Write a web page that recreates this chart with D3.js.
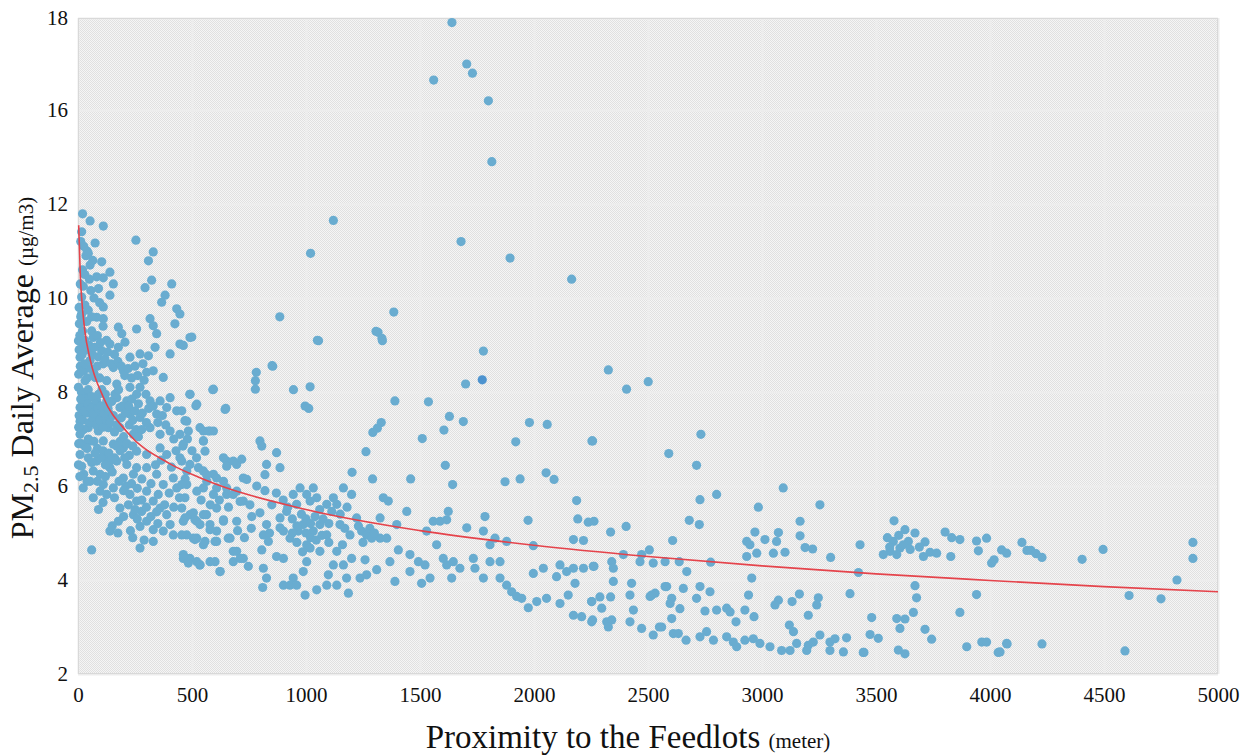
<!DOCTYPE html>
<html><head><meta charset="utf-8">
<script src="https://cdn.jsdelivr.net/npm/d3@7"></script>
<style>body{margin:0;background:#fff;} svg{display:block}</style>
</head><body><svg id="chart" width="1245" height="756"></svg>
<script>
// ---- tick labels ----
const xTicks = [0,500,1000,1500,2000,2500,3000,3500,4000,4500,5000];
const yTicks = [2,4,6,8,10,12,16,18];

// ---- scatter data: [distance (m), PM2.5 (µg/m3)] ----
const pmNear = [[20,11.79],[53,11.64],[16,11.41],[111,11.53],[75,11.17],[254,11.23],[330,10.98],[309,10.79],[45,10.95],[104,10.77],[53,10.7],[140,10.55],[111,10.43],[82,10.45],[323,10.38],[294,10.22],[411,10.3],[155,10.3],[23,10.25],[56,10.16],[140,10.06],[16,10.02],[382,10.06],[367,9.91],[111,9.81],[45,9.74],[433,9.77],[447,9.66],[316,9.56],[6,9.45],[82,9.59],[111,9.56],[177,9.38],[257,9.34],[330,9.41],[345,9.24],[425,9.45],[491,9.16],[447,9.02],[404,8.81],[192,9.24],[206,9.06],[177,8.95],[228,8.74],[272,8.81],[309,8.77],[338,8.95],[2,9.09],[23,8.95],[67,9.16],[104,8.88],[140,9.02],
[9,8.74],[53,8.67],[111,8.6],[155,8.52],[199,8.45],[301,8.42],[330,8.45],[374,8.31],[3,8.38],[31,8.24],[75,8.31],[126,8.24],[170,8.17],[228,8.1],[272,8.1],[316,7.81],[360,7.81],[404,7.88],[2,8.1],[38,7.95],[82,7.81],[126,7.81],[170,7.88],[214,7.81],[257,7.95],[594,8.06],[491,7.95],[645,7.63],[521,7.74],[9,7.67],[53,7.6],[97,7.53],[140,7.53],[184,7.67],[228,7.53],[272,7.46],[345,7.53],[389,7.67],[433,7.6],[477,7.38],[535,7.24],[579,7.17],[9,7.38],[45,7.24],[89,7.17],[133,7.24],[184,7.24],[243,7.1],[316,7.24],[360,7.1],[404,7.17],[447,7.1],[550,6.96],[9,7.1],[53,6.96],[111,6.96],[155,6.89],[199,6.81],[257,6.74],[301,6.67],[360,6.81],[389,6.67],[447,6.6],[491,6.46],[550,6.32],[594,6.25],[652,6.53],[696,6.46],[725,6.17],[638,6.1],
[9,6.67],[45,6.6],[16,6.42],[82,6.53],[126,6.6],[170,6.53],[214,6.46],[257,6.39],[140,6.39],[97,6.25],[67,6.32],[111,6.03],[155,5.96],[126,5.82],[199,6.17],[243,6.25],[301,6.39],[345,6.25],[374,6.03],[418,6.17],[433,5.96],[477,6.03],[521,5.89],[565,6.1],[608,5.96],[652,5.82],[696,5.89],[725,5.68],
[228,5.82],[257,5.68],[221,5.6],[279,5.46],[243,5.39],[301,5.25],[272,5.14],[330,5.07],[177,5.25],[140,5.04],[360,5.53],[389,5.39],[404,5.18],[374,5.04],[418,4.96],[462,5.25],[491,5.39],[477,4.96],[521,5.25],[550,5.39],[579,5.18],[608,5.04],[521,4.89],[550,4.75],[608,4.82],[638,5.25],[667,4.89],[696,4.61],[725,4.46],[681,4.39],[623,4.18],[579,4.39],[491,4.46],[462,4.54],[535,4.32],[60,4.64],[272,4.68],[330,4.82],
[67,5.75],[23,5.96],[53,6.1],[97,5.89],[301,5.89],[330,5.68],[184,5.53],[352,5.82]];

const pmCore = [[5,9.8],[12,9.6],[20,9.3],[30,9.1],[40,8.9],[10,8.55],[25,8.45],[40,8.3],[55,8.5],[70,8.4],[85,8.55],[95,8.3],[15,8.0],[30,7.85],[45,8.05],[60,7.9],[75,7.75],[90,7.95],[105,8.05],[120,7.95],[5,7.5],[20,7.4],[35,7.55],[50,7.35],[65,7.45],[80,7.3],[95,7.4],[110,7.25],[125,7.4],[140,7.35],[155,7.5],[170,7.3],[15,6.9],[30,6.85],[45,7.0],[70,6.95],[85,6.8],[110,6.75],[135,6.7],[160,6.6],[185,6.95],[200,7.05],[215,6.9],[160,7.15],[190,7.45],[225,7.3],[240,7.4],[255,7.2],[5,8.9],[60,9.3],[85,9.2],[110,9.4],[125,9.1],[20,10.6],[35,10.9],[10,10.3],[40,11.0]];

const pmCoreFill = [[8,9.2],[18,8.8],[28,8.6],[38,9.5],[48,9.0],[62,8.8],[72,8.95],[88,8.75],[98,9.05],[118,8.7],[130,8.85],[145,8.6],[160,8.8],[175,8.65],[190,8.55],[205,8.35],[220,8.5],[235,8.3],[250,8.55],[262,8.35],[285,8.6],[290,8.25],[18,7.7],[28,7.6],[42,7.75],[58,7.65],[68,7.55],[88,7.65],[102,7.7],[115,7.55],[132,7.65],[148,7.8],[162,7.95],[178,8.05],[195,7.7],[208,7.55],[222,7.7],[236,7.85],[250,7.6],[265,7.75],[282,7.55],[298,7.95],[310,7.65],[330,7.7],[350,7.35],[370,7.5],[385,7.3],[300,7.35],[280,7.2],[265,7.05],[240,6.85],[225,6.65],[205,6.6],[185,6.75],[170,6.85],[145,6.55],[120,6.45],[100,6.6],[75,6.7],[60,6.5],[40,6.8],[25,7.2],[12,7.85],[3,7.25],[3,6.9],[2,6.45],[25,6.25],[40,6.1],[8,6.2],[85,6.1],[120,6.2],[150,6.3],[180,6.1],[210,6.0],[235,6.05],[260,5.95],[280,6.15],[320,6.05],[340,6.45],[365,6.55],[410,6.4],[430,6.75],[420,7.0],[460,6.85],[480,7.0],[500,6.75],[520,6.6],[470,6.15],[400,5.85],[380,5.6],[345,5.45],[320,5.35],[300,5.55],[280,5.7],[250,5.5],[200,5.9],[160,5.75],[110,5.65],[90,5.5],[200,5.35],[150,5.15],[175,5.0],[230,5.05],[260,5.3],[240,4.9],[290,4.85],[350,5.2],[420,5.55],[445,5.75],
[12,11.2],[25,11.1],[30,10.5],[50,10.4],[65,10.8],[70,10.0],[90,10.2],[95,9.9],[30,9.85],[60,9.6],[15,9.65]];

const pmMid = [[462,8.99],[499,9.17],[491,7.95],[517,7.71],[591,8.05],[648,7.65],[782,8.42],[778,8.24],[778,8.06],[854,8.55],[945,8.05],[1018,8.11],[996,7.7],[1012,7.65],[1055,9.09],[1316,9.27],[1335,9.09],[1778,8.87],[1700,8.17],[1390,7.81],[1537,7.79],[1330,7.35],[1313,7.23],[1293,7.14],[1629,7.48],[1690,7.37],[1605,7.19],[1510,7.01],[1263,6.73],[1611,6.44],[1643,6.03],[1459,6.15],[1292,6.15],[1202,6.29],[1980,7.35],[2058,7.31],[1920,6.94],[2254,6.96],[1939,6.15],[1873,6.09],[2053,6.28],[2088,6.14],[2187,5.69],[2192,5.3],[2238,5.23],[1974,5.27],
[455,7.6],[469,7.39],[484,7.17],[462,6.89],[455,6.53],[477,6.32],[455,6.03],[469,5.75],[455,5.53],[469,5.32],[455,4.96],[477,4.46],[521,4.39],[506,4.89],[513,5.28],[550,7.17],[572,7.17],[550,6.96],[557,6.74],[594,7.17],[528,6.39],[564,6.24],[608,6.17],[638,6.6],[652,6.42],[681,6.53],[718,6.57],[550,5.96],[594,5.82],[652,5.96],[681,5.82],[740,6.14],[798,6.96],[806,6.85],[784,6.0],[827,6.46],[820,6.24],[871,6.71],[886,6.39],[506,5.43],[564,5.39],[608,5.53],[638,5.28],[535,5.18],[579,5.07],[513,4.86],[557,4.82],[601,4.82],[659,4.89],[696,5.25],[711,5.67],[754,5.6],[762,5.35],[798,5.43],[827,5.18],[813,4.96],[835,4.82],[806,4.64],[681,4.61],[711,4.46],[747,4.29],[623,4.18],[601,4.39],[462,4.46],[484,4.36],[535,4.32],[813,4.25],[827,4.04],[810,3.84],[871,4.5],[901,4.46],[886,5.32],[901,5.04],[930,4.89],[966,5.04],[1003,4.75],[988,5.18],[944,5.82],[974,5.96],[1003,5.82],[1032,5.96],[1047,5.75],[1018,5.68],[959,5.61],[915,5.46],[886,5.11],[1061,5.18],[1091,4.96],[1032,5.04],[1018,4.68],[1061,4.61],[1003,4.39],[988,4.18],[944,4.04],[901,3.89],[930,3.89],[959,3.89],[996,3.68],[1047,3.79],[1098,4.11],[1120,4.32],[1135,4.61],[1164,4.32],[1178,4.04],[1186,3.72],[1091,3.89],[1135,3.89],[1237,4.04],[1266,4.11],[1310,4.22],[1259,4.43],[1200,4.46],[1091,5.61],[1120,5.75],[1135,5.61],[1164,5.96],[1200,5.82],[1113,5.46],[1149,5.18],[1193,4.96],[1222,5.32],[1244,5.04],[1266,4.96],[1288,4.89],[1325,4.89],[1354,4.89],[1325,5.32],[1361,5.68],[1339,5.75],[1398,5.18],[1442,5.46],[1405,4.64],[1368,4.39],[1390,3.97],[1456,4.54],[1493,4.39],[1522,4.32],[1507,3.93],[1544,4.04],[1456,4.18],[1529,5.04],[1558,5.25],[1588,5.25],[1624,5.46],[1617,5.28],[1573,4.75],[1602,4.46],[1617,4.32],[1646,4.39],[1639,4.04],[1675,4.25],[1705,5.11],[1734,4.46],[1741,4.25],[1778,4.04],[1785,5.35],[1778,5.04],[1807,4.75],[1807,4.39],[1851,4.39],[1829,4.89],[1880,4.82],[1851,4.04],[1880,3.89],[1902,3.75],[1924,3.65],[1946,3.61],[1975,3.41],[2012,3.54],[2055,3.61],[1997,4.14],[2041,4.25],[2114,3.5],[2150,3.68],[2173,3.25],[2209,3.22],[2253,3.11],[2253,3.54],[2114,4.32],[2099,4.07],[2143,4.18],[2173,4.25],[2217,4.25],[2260,4.29],[2180,3.93],[2173,4.86],[2217,4.84],[1997,4.73]];

const pmMidFill = [[900,5.7],[920,5.55],[940,5.3],[960,5.15],[980,5.4],[1000,5.3],[1020,5.2],[1040,5.35],[1060,5.5],[1075,5.3],[1000,5.0],[1020,4.9],[1045,4.85],[940,5.0],[960,4.8],[985,4.6],[1070,4.95],[1100,5.2],[1100,4.8],[1150,5.4],[1170,5.1],[1180,5.55],[1230,5.15],[1250,4.8],[1280,5.1],[1300,5.0],[1160,4.75],[850,5.6],[870,5.85],[820,5.9],[840,5.0],[760,5.1],[730,4.9],[700,5.05],[660,5.55],[620,5.7],[580,5.6],[540,5.7]];

const pmFar = [[2326,8.47],[2406,8.06],[2501,8.22],[2257,6.96],[2732,7.1],[2591,6.69],[2713,6.44],[3093,5.96],[2728,5.71],[2801,5.82],[2984,5.55],[3254,5.6],[2263,5.25],[2336,5.02],[2404,5.14],[2681,5.27],[2725,5.18],[2608,4.84],[2506,4.64],[2472,4.54],[2392,4.54],[2341,4.39],[2348,4.25],[2263,4.29],[2465,4.39],[2523,4.36],[2575,4.39],[2637,4.39],[2670,4.18],[2775,4.38],[2933,4.82],[2947,4.75],[2969,5.02],[3013,4.86],[3072,5.01],[3064,4.82],[3050,4.57],[3101,4.59],[3167,5.25],[3167,4.94],[3189,4.69],[3222,4.66],[2933,4.5],[2977,4.57],[2955,4.04],[3301,4.48],[3430,4.75],[3423,4.16],[3579,5.26],[3627,5.07],[3671,5.0],[3576,4.82],[3605,4.68],[3642,4.82],[3561,4.61],[3532,4.54],[3591,4.54],[3715,4.81],[3737,4.59],[3766,4.57],[3708,4.5],[3803,5.02],[3832,4.9],[3868,4.86],[3941,4.83],[3985,4.89],[3949,4.62],[3828,4.5],[4018,4.43],[4007,4.36],[4051,4.64],[4073,4.57],[3671,3.88],[3678,3.62],[3664,3.31],[3627,3.17],[3591,3.18],[3605,2.97],[3715,2.95],[3744,2.74],[3868,3.31],[3941,3.69],[3898,2.58],[3964,2.68],[3985,2.68],[4036,2.46],[4073,2.65],[3627,2.43],[3598,2.51],[3481,3.2],[3474,2.84],[3510,2.76],[3447,2.46],[3386,3.71],[3247,3.62],[3240,3.47],[3203,3.25],[3164,3.7],[3132,3.54],[3072,3.57],[3057,3.47],[3120,3.04],[3138,2.9],[2941,3.68],[2925,3.36],[2965,3.22],[2886,3.11],[2845,3.4],[2860,3.32],[2801,3.36],[2750,3.34],[2772,3.75],[2728,3.86],[2713,3.61],[2655,3.82],[2640,3.39],[2604,3.61],[2597,3.5],[2582,3.86],[2531,3.72],[2509,3.65],[2436,3.36],[2421,3.11],[2472,2.97],[2523,2.83],[2560,3.0],[2604,3.18],[2611,2.86],[2633,2.86],[2667,2.72],[2728,2.79],[2757,2.9],[2787,2.72],[2845,2.79],[2874,2.68],[2889,2.58],[2925,2.72],[2962,2.75],[2991,2.65],[3035,2.58],[3086,2.5],[3123,2.5],[3152,2.65],[3203,2.61],[3196,2.5],[3254,2.83],[3225,2.68],[3298,2.68],[3298,2.5],[3357,2.47],[3320,2.75],[3371,2.77],[3444,2.46],[2336,3.64],[2289,3.64],[2297,3.4],[2253,3.54],[2257,3.15],[2319,3.11],[2341,3.15],[2326,3.0],[2348,3.97],[2428,3.93],[2421,3.68],[2516,3.68],[2550,3.0],[2575,3.86],[3550,4.9],[3600,4.95],[3620,4.75],[3650,4.65],[3560,4.7],[3690,4.7]];

const pmEdge = [[4140,4.8],[4162,4.63],[4180,4.63],[4202,4.56],[4228,4.48],[4228,2.64],[4075,2.64],[4044,2.47],[4404,4.44],[4496,4.65],[4610,3.67],[4592,2.49],[4750,3.6],[4820,4.0],[4890,4.8],[4890,4.46]];

const pmHigh = [[1640,17.9],[1705,17.0],[1730,16.8],[1560,16.65],[1800,16.2],[1815,13.8],[1120,11.65],[1680,11.2],[1895,10.85],[1020,10.95],[2165,10.4],[1050,9.1],[885,9.6],[1385,9.7],[1307,9.29],[1333,9.14],[851,8.56]];

const pmMarked = [[1773,8.26]];

// ---- trend line ----
const trendDist = [3,10,16,30,53,110,215,404,548,1000,1500,2000,2500,3000,3500,4000,4500,5000];
const trendPM   = [11.55,10.5,10.0,9.3,8.7,7.9,7.15,6.47,6.15,5.5,5.05,4.74,4.5,4.3,4.13,3.99,3.86,3.75];

// ---- layout ----
const plot = {left:78, right:1218, top:18, bottom:674};
const svg = d3.select("#chart");
const x = d3.scaleLinear().domain([0,5000]).range([plot.left, plot.right]);
// broken axis: labels 18,16,12,... at equal spacing
const y = d3.scaleLinear().domain([2,12,16,18]).range([674,204,110,18]);

const defs = svg.append("defs");
const pat = defs.append("pattern").attr("id","dots").attr("width",2).attr("height",2).attr("patternUnits","userSpaceOnUse");
pat.append("rect").attr("width",2).attr("height",2).attr("fill","#f5f5f5");
pat.append("rect").attr("width",1).attr("height",1).attr("fill","#e0e0e0");
pat.append("rect").attr("x",1).attr("y",1).attr("width",1).attr("height",1).attr("fill","#e0e0e0");

svg.append("rect").attr("x",plot.left).attr("y",plot.top)
  .attr("width",plot.right-plot.left).attr("height",plot.bottom-plot.top)
  .attr("fill","url(#dots)");

// grid
const gx = svg.append("g").attr("transform",`translate(0,${plot.bottom})`)
  .call(d3.axisBottom(x).tickValues(xTicks).tickSize(-(plot.bottom-plot.top)).tickFormat(""));
gx.select(".domain").remove();
gx.selectAll("line").attr("stroke","#ededed").attr("stroke-width",2);
const gy = svg.append("g").attr("transform",`translate(${plot.left},0)`)
  .call(d3.axisLeft(y).tickValues(yTicks).tickSize(-(plot.right-plot.left)).tickFormat(""));
gy.select(".domain").remove();
gy.selectAll("line").attr("stroke","#ededed").attr("stroke-width",2);

svg.append("rect").attr("x",plot.left+0.5).attr("y",plot.top+0.5)
  .attr("width",plot.right-plot.left-1).attr("height",plot.bottom-plot.top-1)
  .attr("fill","none").attr("stroke","#d9d9d9").attr("stroke-width",1);

// points
const allPts = [].concat(pmNear, pmCore, pmCoreFill, pmMid, pmMidFill, pmFar, pmEdge, pmHigh);
svg.append("g").selectAll("circle").data(allPts).join("circle")
  .attr("cx",d=>x(d[0])).attr("cy",d=>y(d[1])).attr("r",4.6)
  .attr("fill","#69acd0");
svg.append("g").selectAll("circle").data(pmMarked).join("circle")
  .attr("cx",d=>x(d[0])).attr("cy",d=>y(d[1])).attr("r",4.6)
  .attr("fill","#4d93cf");

// trend
const trend = trendDist.map((d,i)=>[d,trendPM[i]]);
svg.append("path").datum(trend)
  .attr("d", d3.line().x(d=>x(d[0])).y(d=>y(d[1])).curve(d3.curveMonotoneX))
  .attr("fill","none").attr("stroke","#e5434b").attr("stroke-width",1.6);

// axes labels
const font = "'Liberation Serif', 'Times New Roman', serif";
const ax = svg.append("g").attr("transform",`translate(0,${plot.bottom})`)
  .call(d3.axisBottom(x).tickValues(xTicks).tickSize(0).tickPadding(13).tickFormat(d3.format("d")));
ax.select(".domain").remove();
ax.selectAll("text").style("font-family",font).style("font-size","21px").attr("fill","#111");
const ay = svg.append("g").attr("transform",`translate(${plot.left},0)`)
  .call(d3.axisLeft(y).tickValues(yTicks).tickSize(0).tickPadding(10).tickFormat(d3.format("d")));
ay.select(".domain").remove();
ay.selectAll("text").style("font-family",font).style("font-size","21px").attr("fill","#111");

// titles
const xt = svg.append("text").attr("x",628).attr("y",748).attr("text-anchor","middle")
  .style("font-family",font).attr("fill","#111");
xt.append("tspan").style("font-size","33px").text("Proximity to the Feedlots ");
xt.append("tspan").style("font-size","21px").text("(meter)");

const yt = svg.append("text").attr("transform","translate(33,368) rotate(-90)").attr("text-anchor","middle")
  .style("font-family",font).attr("fill","#111");
yt.append("tspan").style("font-size","32px").text("PM");
yt.append("tspan").style("font-size","22px").attr("dy",5).text("2.5");
yt.append("tspan").style("font-size","32px").attr("dy",-5).text(" Daily Average ");
yt.append("tspan").style("font-size","21px").text("(µg/m3)");
</script></body></html>
